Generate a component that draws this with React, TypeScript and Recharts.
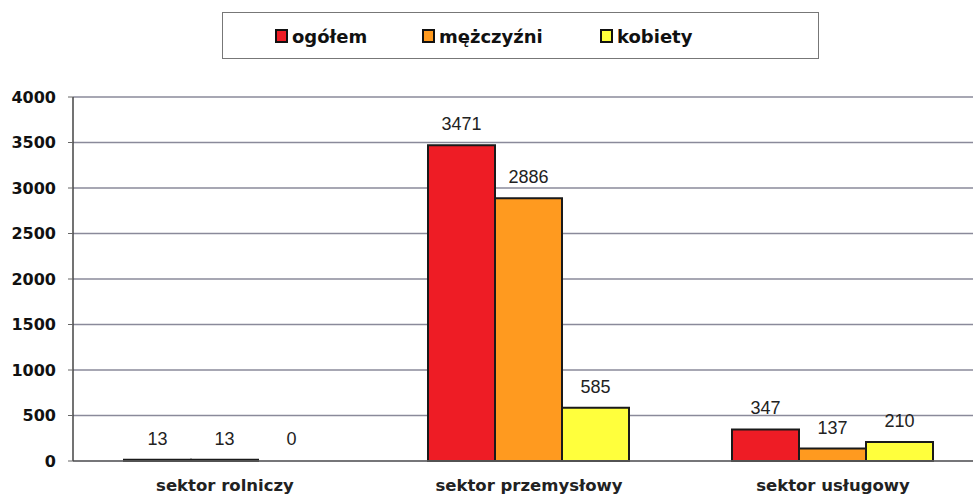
import React from "react";
import { BarChart, Bar, XAxis, YAxis, CartesianGrid, LabelList, Rectangle } from "recharts";

const categories = ["sektor rolniczy", "sektor przemysłowy", "sektor usługowy"];
const ogolem = [13, 3471, 347];
const mezczyzni = [13, 2886, 137];
const kobiety = [0, 585, 210];
const yTicks = [0, 500, 1000, 1500, 2000, 2500, 3000, 3500, 4000];

const data = categories.map((c, i) => ({
  name: c,
  ogolem: ogolem[i],
  mezczyzni: mezczyzni[i],
  kobiety: kobiety[i],
}));

const series = [
  { key: "ogolem", label: "ogółem", color: "#ee1c25" },
  { key: "mezczyzni", label: "mężczyźni", color: "#ff9a1f" },
  { key: "kobiety", label: "kobiety", color: "#ffff3c" },
];

const legendPos = [275, 422, 600];
const boldFont = "'DejaVu Sans', Verdana, sans-serif";

export default function App() {
  return (
    <div style={{ position: "absolute", left: 0, top: 0, width: 973, height: 495, overflow: "hidden", background: "#fff", fontFamily: "Arial, 'Liberation Sans', sans-serif" }}>
      <div style={{ position: "absolute", left: 222, top: 12, width: 597, height: 47, border: "1.5px solid #777", boxSizing: "border-box" }} />
      {series.map((s, i) => (
        <div key={s.key} style={{ position: "absolute", left: legendPos[i], top: 22, height: 28, display: "flex", alignItems: "center", fontWeight: "bold", fontSize: 18, fontFamily: boldFont, color: "#111" }}>
          <span style={{ display: "inline-block", width: 9, height: 10, background: s.color, border: "2px solid #111", marginRight: 4 }} />
          {s.label}
        </div>
      ))}
      <BarChart width={985} height={495} data={data} margin={{ top: 97, right: 0, bottom: 0, left: 0 }} barCategoryGap={51} barGap={0}>
        <CartesianGrid vertical={false} stroke="#8a8a9a" strokeWidth={1.5} />
        <XAxis dataKey="name" height={34} axisLine={{ stroke: "#666", strokeWidth: 1.5 }} tickLine={false} tickMargin={12}
          tick={{ fontSize: 16.5, fontWeight: "bold", fill: "#222", fontFamily: boldFont }} interval={0} />
        <YAxis width={73} domain={[0, 4000]} ticks={yTicks} axisLine={{ stroke: "#444", strokeWidth: 1.5 }} tickLine={{ stroke: "#666" }} tickSize={5} tickMargin={12}
          tick={{ fontSize: 16, fontWeight: "bold", fill: "#111", fontFamily: boldFont }} />
        {series.map((s) => (
          <Bar key={s.key} dataKey={s.key} fill={s.color} stroke="#1a1a1a" strokeWidth={2} isAnimationActive={false}
            minPointSize={(v: number) => (v === 0 ? 1 : 0)}
            shape={(p: any) => (p.payload && p.payload[s.key] === 0 ? <g /> : <Rectangle {...p} />)}>
            <LabelList dataKey={s.key} position="top" offset={15} style={{ fontSize: 18, fill: "#222" }} />
          </Bar>
        ))}
      </BarChart>
    </div>
  );
}
